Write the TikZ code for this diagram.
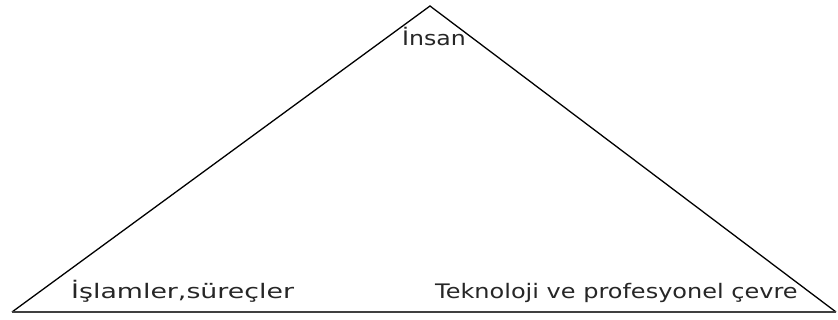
\documentclass[tikz,border=0pt]{standalone}
\usepackage{fontspec}
\setmainfont{DejaVu Sans}
\usetikzlibrary{positioning}
\tikzset{
  corner/.style={inner sep=0pt, font=\fontsize{20}{24}\selectfont, text=black!85},
  wide/.style={font=\fontsize{20}{24}\selectfont\addfontfeature{FakeStretch=#1}},
  side/.style={draw=black, line width=1.3pt, line join=miter}
}

\begin{document}
\begin{tikzpicture}[x=1pt, y=-1pt]
\useasboundingbox (0,0) rectangle (838,320);
% the three corners of the triangle
\coordinate (top) at (430,6);
\coordinate (left) at (12,312);
\coordinate (right) at (836,312);
\draw[side] (left) -- (top) -- (right);
\draw[side, draw=black!75, line width=2pt] (right) -- (left);
% labels inside the corners
\node[corner, wide=1.18, anchor=base] (human) at (434,46) {İnsan};
\node[corner, wide=1.34, anchor=base west] (process) at (71,299) {İşlamler,süreçler};
\node[corner, wide=1.2, anchor=base west] (tech) at (435,299) {Teknoloji ve profesyonel çevre};
\end{tikzpicture}
\end{document}
